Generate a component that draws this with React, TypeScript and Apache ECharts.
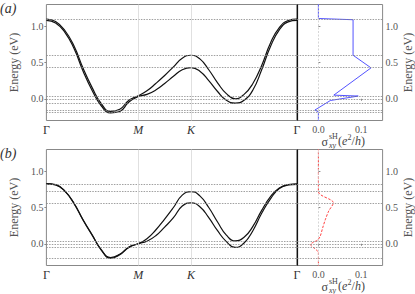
import React, { useEffect, useRef } from 'react';
import * as echarts from 'echarts';

// k-path positions: Γ=0, M=1, K=1.577, Γ=2.732
const kTicks = [0, 1, 1.577, 2.732];
const kTickLabels = ['Γ', 'M', 'K', 'Γ'];
const energyTicks = [0, 0.5, 1.0];
const sigmaTicks = [0, 0.1];

const kPoints = [
  0, 0.1, 0.2, 0.3, 0.4, 0.5, 0.6, 0.7, 0.8, 0.9, 1.0,
  1.096, 1.192, 1.289, 1.385, 1.481, 1.577,
  1.673, 1.770, 1.866, 1.962, 2.058, 2.155, 2.251, 2.347, 2.443, 2.539, 2.636, 2.732,
];

const bandAUpper = [
  1.10, 1.065, 0.945, 0.73, 0.42, 0.15, -0.07, -0.175, -0.145, -0.02, 0.04,
  0.11, 0.21, 0.32, 0.44, 0.56, 0.60,
  0.55, 0.40, 0.22, 0.07, 0.00, 0.06, 0.21, 0.46, 0.77, 0.98, 1.08, 1.10,
];
const bandALower = [
  1.08, 1.045, 0.92, 0.695, 0.38, 0.11, -0.10, -0.195, -0.175, -0.045, 0.03,
  0.06, 0.12, 0.21, 0.31, 0.40, 0.43,
  0.38, 0.25, 0.10, -0.02, -0.06, -0.02, 0.12, 0.40, 0.72, 0.95, 1.06, 1.08,
];
const bandBUpper = [
  0.83, 0.815, 0.73, 0.56, 0.33, 0.12, -0.085, -0.19, -0.145, -0.045, 0.00,
  0.07, 0.19, 0.34, 0.50, 0.67, 0.72,
  0.66, 0.50, 0.30, 0.12, 0.04, 0.09, 0.24, 0.46, 0.65, 0.77, 0.815, 0.825,
];
const bandBLower = [
  0.825, 0.81, 0.725, 0.555, 0.325, 0.115, -0.09, -0.20, -0.15, -0.05, 0.00,
  0.035, 0.11, 0.23, 0.36, 0.52, 0.565,
  0.51, 0.36, 0.18, 0.03, -0.05, 0.01, 0.18, 0.42, 0.62, 0.76, 0.81, 0.82,
];

const levelsA = [1.1, 0.6, 0.43, 0.04, 0.0, -0.06, -0.16, -0.19];
const levelsB = [0.82, 0.72, 0.565, 0.04, 0.0, -0.05, -0.2];

const sigmaA = [0, 0, 0.081, 0.081, 0.123, 0.036, 0.093, 0.028, -0.008, 0, 0];
const energyA = [1.32, 1.107, 1.09, 0.60, 0.426, 0.05, 0.037, -0.024, -0.155, -0.18, -0.32];

const sigmaB = [0, 0, 0.035, 0.024, 0.016, 0.010, 0.004, -0.002, -0.012, -0.019, -0.012, -0.004, 0, 0];
const energyB = [1.32, 0.72, 0.565, 0.45, 0.33, 0.22, 0.10, 0.05, 0.02, -0.01, -0.05, -0.09, -0.12, -0.32];

const SERIF = 'Liberation Serif';
const GRAY = '#888';

function buildOption() {
  const gridBase = { show: true, borderColor: GRAY, borderWidth: 1, backgroundColor: 'transparent' };
  const tops = [4.5, 149.5];
  const grid: any[] = [];
  tops.forEach((t) => {
    grid.push({ ...gridBase, left: 29, top: t, width: 268, height: 116 });
    grid.push({ ...gridBase, left: 297, top: t, width: 89, height: 116 });
  });

  const xAxis: any[] = [];
  const yAxis: any[] = [];
  [0, 1].forEach((p) => {
    xAxis.push({
      type: 'value', gridIndex: p * 2, min: 0, max: 2.732,
      axisLine: { show: false }, splitLine: { show: false },
      axisTick: { show: true, customValues: kTicks, length: 2, lineStyle: { color: GRAY } },
      axisLabel: {
        customValues: kTicks, margin: 3, fontFamily: SERIF, fontSize: 12, color: '#333',
        formatter: (v: number) => {
          const i = kTicks.findIndex((t) => Math.abs(t - v) < 1e-6);
          const l = kTickLabels[i] ?? '';
          return l === 'Γ' ? l : `{i|${l}}`;
        },
        rich: { i: { fontFamily: SERIF, fontSize: 12, fontStyle: 'italic', color: '#333' } },
      },
    });
    xAxis.push({
      type: 'value', gridIndex: p * 2 + 1, min: -0.05, max: 0.15,
      axisLine: { show: false }, splitLine: { show: false },
      axisTick: { show: true, customValues: sigmaTicks, length: 2, lineStyle: { color: GRAY } },
      axisLabel: { customValues: sigmaTicks, margin: 4, fontFamily: SERIF, fontSize: 10, color: '#555', formatter: (v: number) => v.toFixed(1) },
    });
    yAxis.push({
      type: 'value', gridIndex: p * 2, min: -0.3, max: 1.3,
      axisLine: { show: false }, splitLine: { show: false },
      axisTick: { show: true, customValues: energyTicks, length: 2, lineStyle: { color: GRAY } },
      axisLabel: { customValues: energyTicks, margin: 3, fontFamily: SERIF, fontSize: 10, color: '#555', formatter: (v: number) => v.toFixed(1) },
      name: 'Energy (eV)', nameLocation: 'middle', nameRotate: 90, nameGap: 17,
      nameTextStyle: { fontFamily: SERIF, fontSize: 12, color: '#555' },
    });
    yAxis.push({
      type: 'value', gridIndex: p * 2 + 1, min: -0.3, max: 1.3, position: 'right',
      axisLine: { show: false }, splitLine: { show: false },
      axisTick: { show: true, customValues: energyTicks, length: 2, lineStyle: { color: GRAY } },
      axisLabel: { customValues: energyTicks, margin: 3, fontFamily: SERIF, fontSize: 10, color: '#555', formatter: (v: number) => v.toFixed(1) },
      name: 'Energy (eV)', nameLocation: 'middle', nameRotate: 90, nameGap: 17,
      nameTextStyle: { fontFamily: SERIF, fontSize: 12, color: '#555' },
    });
  });

  const dashed = { color: '#888', width: 0.8, type: [1.5, 1.2] };
  const mk = (data: any[]) => ({ symbol: ['none', 'none'], silent: true, label: { show: false }, emphasis: { disabled: true }, animation: false, data });

  const series: any[] = [];
  const panels = [
    { levels: levelsA, up: bandAUpper, lo: bandALower, sx: sigmaA, sy: energyA, color: 'rgba(40,40,255,0.8)', ltype: 'solid', smooth: false },
    { levels: levelsB, up: bandBUpper, lo: bandBLower, sx: sigmaB, sy: energyB, color: 'rgba(255,30,30,0.85)', ltype: [2.5, 1.5], smooth: 0.3 },
  ];
  panels.forEach((pn, p) => {
    const gb = p * 2;
    const gc = p * 2 + 1;
    series.push({
      type: 'line', xAxisIndex: gb, yAxisIndex: gb, z: 3, symbol: 'none', showSymbol: false, smooth: 0.5,
      data: kPoints.map((k, i) => [k, pn.up[i]]),
      lineStyle: { color: '#111', width: 1.2 },
      markLine: mk([
        ...pn.levels.map((v) => ({ yAxis: v, lineStyle: dashed })),
        { xAxis: kTicks[1], lineStyle: { color: '#d8d8d8', width: 0.8, type: 'solid' } },
        { xAxis: kTicks[2], lineStyle: { color: '#d8d8d8', width: 0.8, type: 'solid' } },
      ]),
    });
    series.push({
      type: 'line', xAxisIndex: gb, yAxisIndex: gb, z: 4, symbol: 'none', showSymbol: false, smooth: 0.5,
      data: kPoints.map((k, i) => [k, pn.lo[i]]),
      lineStyle: { color: '#111', width: 1.2 },
      markLine: mk([{ xAxis: kTicks[3], lineStyle: { color: '#111', width: 1.2, type: 'solid' } }]),
    });
    series.push({
      type: 'line', xAxisIndex: gc, yAxisIndex: gc, z: 3, symbol: 'none', showSymbol: false, smooth: pn.smooth,
      data: pn.sx.map((s, i) => [s, pn.sy[i]]),
      lineStyle: { color: pn.color, width: 1, type: pn.ltype },
      markLine: mk([
        ...pn.levels.map((v) => ({ yAxis: v, lineStyle: dashed })),
        { xAxis: 0, lineStyle: { color: '#ccc', width: 0.8, type: [2, 1.5] } },
      ]),
    });
  });

  const txt = (x: number, y: number, text: string, size: number, italic = false, fill = '#444') => ({
    type: 'text', x, y, silent: true,
    style: { text, fontFamily: SERIF, fontSize: size, fontStyle: italic ? 'italic' : 'normal', fill, textVerticalAlign: 'top' },
  });
  const sigmaLabel = (top: number) => [
    txt(321.5, top + 1, 'σ', 12),
    txt(329, top - 3, 'sH', 8),
    txt(329, top + 6.5, 'xy', 8, true),
    txt(338, top, '(', 12),
    txt(342, top, 'e', 12, true),
    txt(347.5, top - 2, '2', 8),
    txt(351.5, top, '/', 12),
    txt(355, top, 'h', 12, true),
    txt(361, top, ')', 12),
  ];

  const graphic = [
    txt(0, 1, '(a)', 14, true, '#333'),
    txt(0, 146, '(b)', 14, true, '#333'),
    ...sigmaLabel(135),
    ...sigmaLabel(280),
  ];

  return { animation: false, backgroundColor: '#fff', grid, xAxis, yAxis, series, graphic };
}

export default function App() {
  const ref = useRef<HTMLDivElement>(null);
  useEffect(() => {
    const chart = echarts.init(ref.current!, null, { renderer: 'svg' });
    chart.setOption(buildOption() as any);
    return () => chart.dispose();
  }, []);
  return <div ref={ref} style={{ position: 'fixed', left: 0, top: 0, width: 415, height: 294 }} />;
}
